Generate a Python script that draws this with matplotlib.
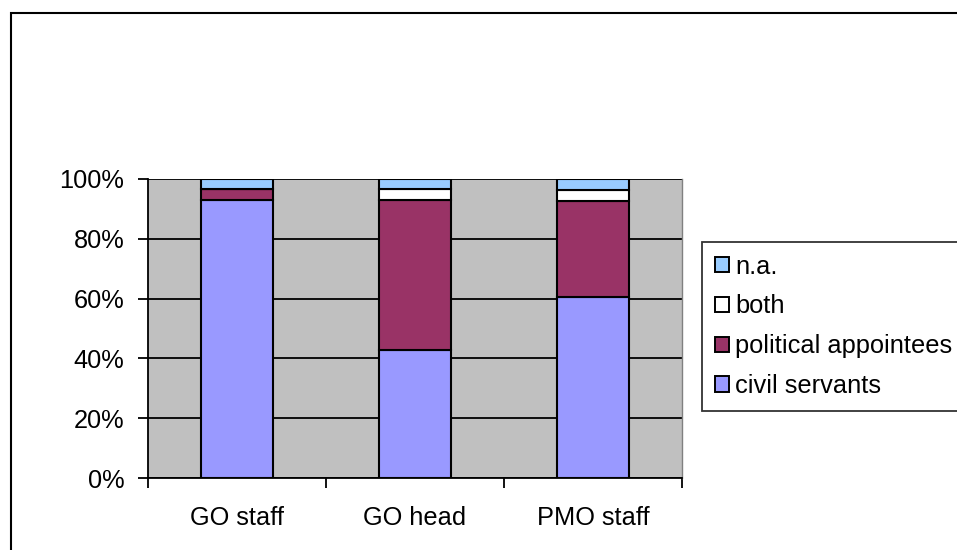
import matplotlib
matplotlib.use("Agg")
import matplotlib.pyplot as plt
import matplotlib.patches as mpatches
from matplotlib.ticker import FixedLocator, PercentFormatter

plt.rcParams['font.family'] = ['Liberation Sans', 'DejaVu Sans']

categories = ["GO staff", "GO head", "PMO staff"]
series_names = ["civil servants", "political appointees", "both", "n.a."]
civil_servants = [92.9, 42.9, 60.7]
political_appointees = [3.6, 50.0, 32.1]
both = [0.0, 3.6, 3.6]
na = [3.6, 3.6, 3.6]
colors = ["#9999FF", "#993366", "#FFFFFF", "#99CCFF"]
y_ticks = [0, 20, 40, 60, 80, 100]

W, H = 957, 550
fig = plt.figure(figsize=(W / 100, H / 100), dpi=100)
fig.patch.set_facecolor("white")

ax = fig.add_axes([148 / W, 1 - 478 / H, (682 - 148) / W, (478 - 179) / H])
ax.set_facecolor("#C0C0C0")

FS = 18.3
x = list(range(len(categories)))
bottom = [0.0] * len(categories)
for name, vals, c in zip(series_names, [civil_servants, political_appointees, both, na], colors):
    ax.bar(x, vals, width=0.4, bottom=bottom, color=c, edgecolor="black",
           linewidth=1.5, zorder=3, label=name)
    bottom = [b + v for b, v in zip(bottom, vals)]

ax.set_xlim(-0.5, len(categories) - 0.5)
ax.set_ylim(0, 100)
ax.yaxis.set_major_locator(FixedLocator(y_ticks))
ax.yaxis.set_major_formatter(PercentFormatter(decimals=0))
ax.grid(axis="y", color="black", linewidth=1.3, zorder=1)
ax.set_axisbelow(True)

ax.set_xticks([i - 0.5 for i in range(len(categories) + 1)])
ax.set_xticklabels([])
ax.set_xticks(x, minor=True)
ax.set_xticklabels(categories, minor=True)
ax.tick_params(axis="x", which="minor", length=0, pad=20, labelsize=FS)
ax.tick_params(axis="x", which="major", length=7, width=1.3, direction="out")
ax.tick_params(axis="y", length=7, width=1.3, direction="out", pad=10, labelsize=FS)

for s in ["left", "bottom"]:
    ax.spines[s].set_color("black")
    ax.spines[s].set_linewidth(1.3)
ax.spines["top"].set_visible(False)
ax.spines["right"].set_color("#808080")
ax.spines["right"].set_linewidth(1.0)

leg_handles = [mpatches.Patch(facecolor=c, edgecolor="black", linewidth=1.4)
               for c in colors][::-1]
leg = fig.legend(leg_handles, series_names[::-1], loc="upper left",
                 bbox_to_anchor=(702 / W, 1 - 242 / H), borderaxespad=0,
                 fontsize=FS, frameon=True, fancybox=False, shadow=False,
                 handlelength=0.55, handleheight=0.55, handletextpad=0.25,
                 labelspacing=0.62, borderpad=0.5)
leg.get_frame().set_edgecolor("black")
leg.get_frame().set_linewidth(1.3)

border = mpatches.Rectangle((10.5 / W, -0.2), 1.5, (H - 13) / H + 0.2,
                            transform=fig.transFigure, fill=False,
                            edgecolor="black", linewidth=1.5, clip_on=False)
fig.patches.append(border)

fig.savefig("out.png", dpi=100)
